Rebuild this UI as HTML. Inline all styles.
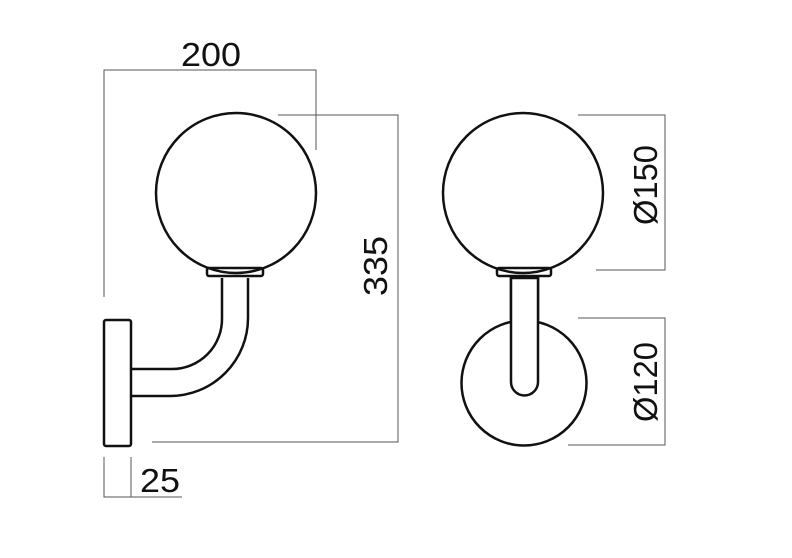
<!DOCTYPE html>
<html><head><style>html,body{margin:0;padding:0;background:#fff}svg{display:block}</style></head>
<body>
<svg width="792" height="558" viewBox="0 0 792 558" xmlns="http://www.w3.org/2000/svg">
<g fill="none" stroke="#555" stroke-width="1">
<path d="M104 297V70H316V150"/>
<path d="M278 115H398V442H152"/>
<path d="M104 457V497H182M131 457V497"/>
<path d="M578 115H665V270H596"/>
<path d="M578 318H665V445H568"/>
</g>
<g fill="none" stroke="#111" stroke-width="2.5">
<circle cx="236" cy="193" r="80"/>
<rect x="207" y="268" width="56" height="8" rx="2"/>
<path d="M222 278V318A50 50 0 0 1 172 369H131"/>
<path d="M248 278V318A78 78 0 0 1 170 396H131"/>
<rect x="104" y="320" width="27" height="126" rx="2"/>
<circle cx="523" cy="193" r="80"/>
<rect x="497" y="268" width="54" height="8" rx="2"/>
<circle cx="524" cy="383" r="62.5"/>
<path d="M511 320V278H538V320" />
</g>
<path d="M511 278V382A13.5 13.5 0 0 0 538 382V278Z" fill="#fff" stroke="#111" stroke-width="2.5"/>
<g font-family="Liberation Sans, sans-serif" font-size="33" fill="#111">
<text x="181" y="66" textLength="60" lengthAdjust="spacingAndGlyphs">200</text>
<text x="140" y="492" textLength="40" lengthAdjust="spacingAndGlyphs">25</text>
<text transform="translate(387,296) rotate(-90)" textLength="60" lengthAdjust="spacingAndGlyphs">335</text>
<text transform="translate(657,225) rotate(-90)" textLength="80" lengthAdjust="spacingAndGlyphs">Ø150</text>
<text transform="translate(657,422) rotate(-90)" textLength="80" lengthAdjust="spacingAndGlyphs">Ø120</text>
</g>
</svg>
</body></html>
